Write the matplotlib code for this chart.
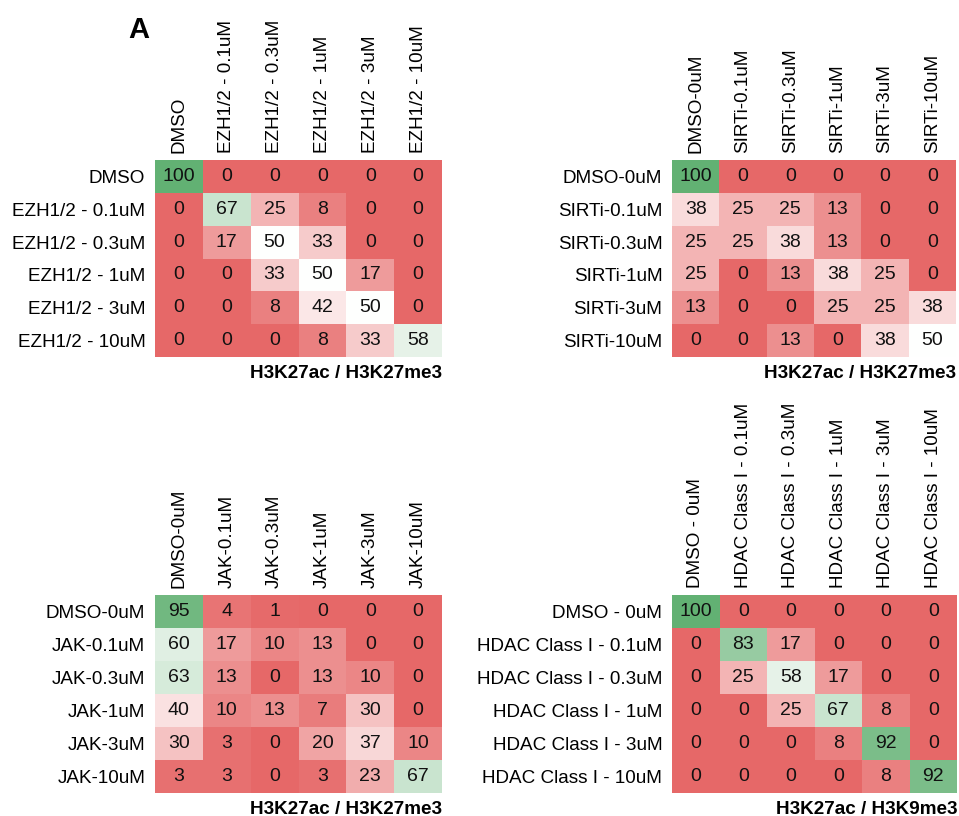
import numpy as np
import matplotlib
matplotlib.use("Agg")
import matplotlib.pyplot as plt
from matplotlib.colors import LinearSegmentedColormap, Normalize

plt.rcParams['font.family'] = ['Liberation Sans', 'DejaVu Sans']

# ---- data ----
ezh_labels = ["DMSO", "EZH1/2 - 0.1uM", "EZH1/2 - 0.3uM", "EZH1/2 - 1uM",
              "EZH1/2 - 3uM", "EZH1/2 - 10uM"]
ezh_values = [[100, 0, 0, 0, 0, 0],
              [0, 67, 25, 8, 0, 0],
              [0, 17, 50, 33, 0, 0],
              [0, 0, 33, 50, 17, 0],
              [0, 0, 8, 42, 50, 0],
              [0, 0, 0, 8, 33, 58]]

sirt_labels = ["DMSO-0uM", "SIRTi-0.1uM", "SIRTi-0.3uM", "SIRTi-1uM",
               "SIRTi-3uM", "SIRTi-10uM"]
sirt_values = [[100, 0, 0, 0, 0, 0],
               [38, 25, 25, 13, 0, 0],
               [25, 25, 38, 13, 0, 0],
               [25, 0, 13, 38, 25, 0],
               [13, 0, 0, 25, 25, 38],
               [0, 0, 13, 0, 38, 50]]

jak_labels = ["DMSO-0uM", "JAK-0.1uM", "JAK-0.3uM", "JAK-1uM",
              "JAK-3uM", "JAK-10uM"]
jak_values = [[95, 4, 1, 0, 0, 0],
              [60, 17, 10, 13, 0, 0],
              [63, 13, 0, 13, 10, 0],
              [40, 10, 13, 7, 30, 0],
              [30, 3, 0, 20, 37, 10],
              [3, 3, 0, 3, 23, 67]]

hdac_labels = ["DMSO - 0uM", "HDAC Class I - 0.1uM", "HDAC Class I - 0.3uM",
               "HDAC Class I - 1uM", "HDAC Class I - 3uM", "HDAC Class I - 10uM"]
hdac_values = [[100, 0, 0, 0, 0, 0],
               [0, 83, 17, 0, 0, 0],
               [0, 25, 58, 17, 0, 0],
               [0, 0, 25, 67, 8, 0],
               [0, 0, 0, 8, 92, 0],
               [0, 0, 0, 0, 8, 92]]

titles = ["H3K27ac / H3K27me3", "H3K27ac / H3K27me3",
          "H3K27ac / H3K27me3", "H3K27ac / H3K9me3"]

W, H = 959, 816
fig = plt.figure(figsize=(W / 100, H / 100), dpi=100)
cmap = LinearSegmentedColormap.from_list(
    "rwg", ["#E66868", "#FFFFFF", "#62B173"])
norm = Normalize(0, 100)

FS = 13.6

def px_axes(x0, y0, x1, y1):
    return fig.add_axes([x0 / W, 1 - y1 / H, (x1 - x0) / W, (y1 - y0) / H])

panels = [
    ((155, 160, 442, 357), ezh_labels, ezh_values, titles[0]),
    ((672, 160, 956, 357), sirt_labels, sirt_values, titles[1]),
    ((155, 595, 442, 793), jak_labels, jak_values, titles[2]),
    ((672, 595, 957, 793), hdac_labels, hdac_values, titles[3]),
]

for (box, labels, values, title) in panels:
    ax = px_axes(*box)
    arr = np.array(values, dtype=float)
    n_r, n_c = arr.shape
    ax.pcolormesh(np.arange(n_c + 1), np.arange(n_r + 1), arr,
                  cmap=cmap, norm=norm)
    ax.set_xlim(0, n_c)
    ax.set_ylim(n_r, 0)
    for i in range(n_r):
        for j in range(n_c):
            ax.text(j + 0.5, i + 0.5, f"{int(arr[i, j])}", ha="center",
                    va="center", fontsize=FS + 0.4, color="#111111")
    ax.set_xticks(np.arange(n_c) + 0.5)
    ax.set_yticks(np.arange(n_r) + 0.5)
    ax.set_xticklabels(labels, rotation=90, fontsize=FS)
    ax.set_yticklabels(labels, fontsize=FS)
    ax.xaxis.tick_top()
    ax.tick_params(axis="x", length=0, pad=5)
    ax.tick_params(axis="y", length=0, pad=7)
    for s in ax.spines.values():
        s.set_visible(False)
    ax.text(1.0, -0.04, title, transform=ax.transAxes, ha="right", va="top",
            fontsize=FS, fontweight="bold")

fig.text(128 / W, 1 - 30 / H, "A", fontsize=21, fontweight="bold",
         ha="left", va="center")

fig.savefig("out.png", dpi=100)
